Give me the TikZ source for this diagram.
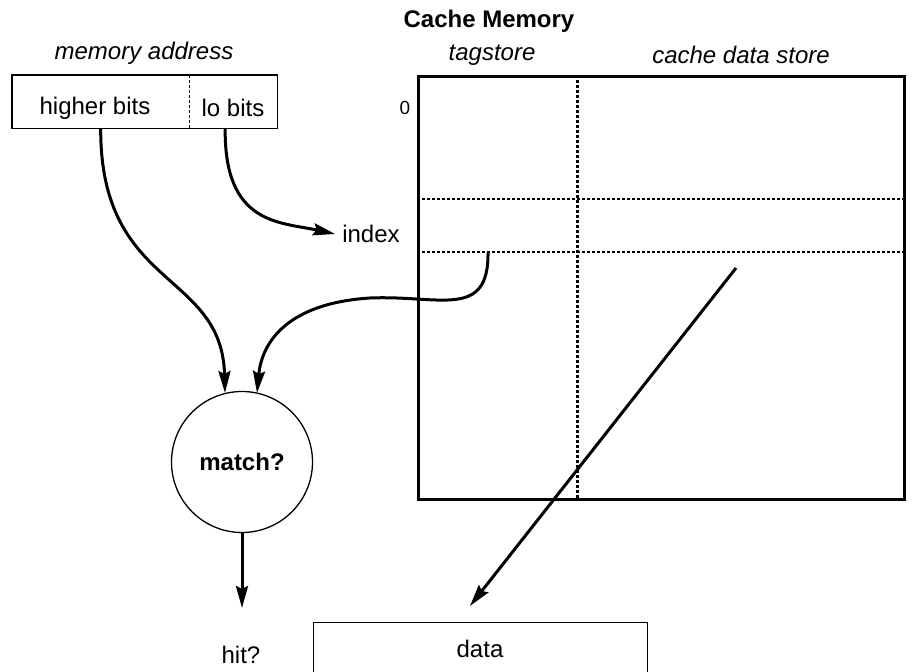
\documentclass[tikz,border=0pt]{standalone}
\usepackage{fontspec}
\setmainfont{Liberation Sans}
\usetikzlibrary{arrows.meta}
\begin{document}
\begin{tikzpicture}[x=1pt,y=-1pt,
  lbl/.style={font=\fontsize{24}{28}\selectfont, inner sep=0pt},
  ilbl/.style={font=\fontsize{24}{28}\selectfont\itshape, inner sep=0pt},
  blbl/.style={font=\fontsize{24}{28}\selectfont\bfseries, inner sep=0pt},
  conn/.style={line width=3pt, -{Stealth[length=22pt,width=12pt,inset=3pt]}},
  dots/.style={line width=1.8pt, dash pattern=on 2.5pt off 2.5pt},
  thin/.style={line width=1.3pt}]
\clip (0,0) rectangle (914,672);
\fill[white] (0,0) rectangle (914,672);
% labels
\node[blbl] (title) at (489,21) {Cache Memory};
\node[ilbl] (malbl) at (144,53) {memory address};
\node[ilbl] (tslbl) at (492,55) {tagstore};
\node[ilbl] (cdlbl) at (741,55) {cache data store};
% memory address box
\node[minimum width=177pt, minimum height=53pt, anchor=north west, inner sep=0pt] (hb) at (12,75) {};
\node[minimum width=88pt, minimum height=53pt, anchor=north west, inner sep=0pt] (lb) at (189,75) {};
\node[lbl] (hbt) at (95,108) {higher bits};
\node[lbl] (lbt) at (233,108) {lo bits};
\draw[thin] (hb.north west) rectangle (lb.south east);
\draw[dots] (hb.north east) -- (hb.south east);
% cache memory
\node[draw, line width=3.2pt, minimum width=486pt, minimum height=423pt, anchor=north west, inner sep=0pt] (cache) at (417,75) {};
\node[font=\fontsize{19}{22}\selectfont, inner sep=0pt] (zero) at (405,108) {0};
\coordinate (r1l) at (417,199);
\coordinate (r1r) at (903,199);
\coordinate (r2l) at (417,252);
\coordinate (r2r) at (903,252);
\coordinate (vt) at (577,75);
\coordinate (vb) at (577,498);
\draw[dots] (r1l) -- (r1r);
\draw[dots] (r2l) -- (r2r);
\draw[dots, line width=3pt] (vt) -- (vb);
% index
\node[lbl] (index) at (371,234) {index};
% match
\node[draw, thin, circle, minimum size=141pt, inner sep=0pt, font=\fontsize{24}{28}\selectfont\bfseries] (match) at (242,462) {match?};
% hit and data
\node[lbl] (hit) at (241,655) {hit?};
\node[draw, thin, minimum width=334pt, minimum height=80pt, anchor=north west, inner sep=0pt] (data) at (313,622) {};
\node[lbl] (datal) at (480,649) {data};
% connectors
\coordinate (tagsrc) at (488,252);
\coordinate (dsrc) at (736,268);
\coordinate (dtip) at (470,606);
\coordinate (hittip) at (242,608);
\draw[conn] (hb.south) .. controls (100,290) and (222,270) .. (225,393);
\draw[conn] ([xshift=-8pt]lb.south) .. controls (224,225) and (280,222) .. ([xshift=-7pt]index.west);
\draw[conn] (tagsrc) .. controls (489,320) and (440,295) .. (370,298)
   .. controls (290,303) and (262,340) .. (257,393);
\draw[conn] (dsrc) -- (dtip);
\draw[conn] (match.south) -- (hittip);
\end{tikzpicture}
\end{document}
